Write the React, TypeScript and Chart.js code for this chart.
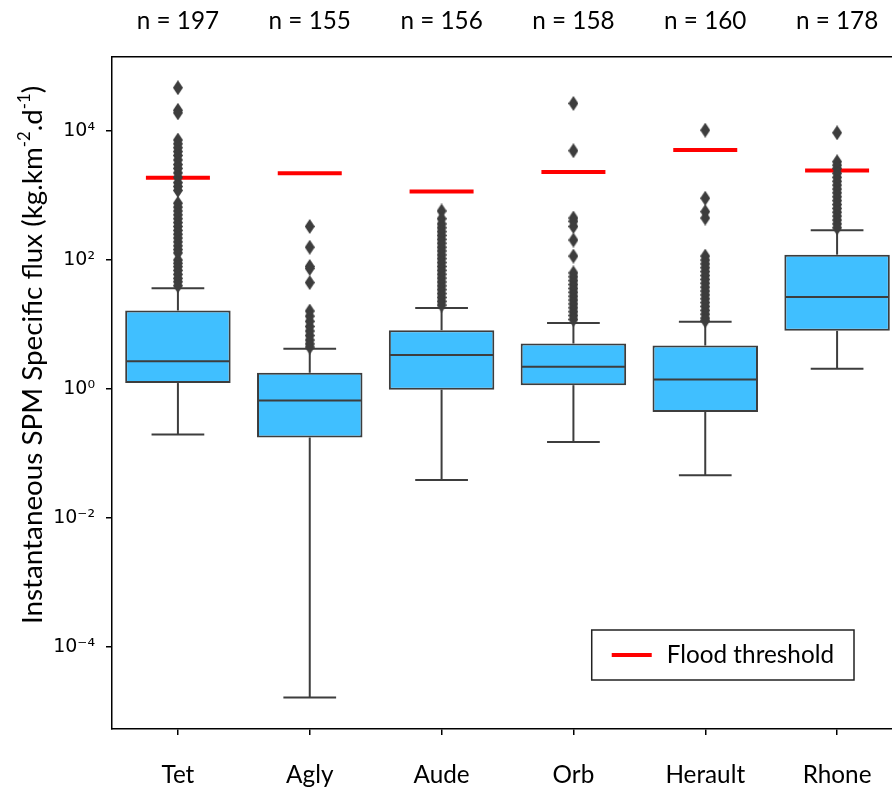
import React, { useEffect, useRef } from 'react';
import { Chart, registerables } from 'chart.js';

Chart.register(...registerables);

// ---------------- data ----------------
const categories = ['Tet', 'Agly', 'Aude', 'Orb', 'Herault', 'Rhone'];
const sampleCounts = [197, 155, 156, 158, 160, 178];

const q1Values = [1.24, 0.177, 0.98, 1.15, 0.441, 7.98];
const medianValues = [2.71, 0.668, 3.36, 2.22, 1.41, 26.8];
const q3Values = [16.5, 1.79, 8.17, 5.08, 4.73, 121];
const whiskerLow = [0.197, 0.0000166, 0.039, 0.152, 0.046, 2.07];
const whiskerHigh = [36.4, 4.21, 18.1, 10.6, 11.1, 290];
const floodThreshold = [1890, 2210, 1150, 2320, 5070, 2430];

const outliersTet = [46800, 20900, 19100, 7240, 6310, 5500, 4790, 4170, 3550, 3020, 2630, 2240, 1910, 1580, 1380, 1200,
  759, 661, 575, 501, 437, 380, 331, 288, 251, 219, 191, 166, 145, 129, 100, 89, 79, 69, 60, 52, 46, 40];
const outliersAgly = [331, 158, 79.4, 74.1, 44.7, 16.2, 13.5, 11.2, 9.33, 7.94, 6.76, 5.75, 5.01, 4.47];
const outliersAude = [575, 437, 363, 316, 275, 240, 209, 182, 158, 138, 120, 105, 91.2, 79.4, 69.2, 60.3, 52.5, 45.7,
  39.8, 34.7, 30.2, 26.3, 22.9, 20.0];
const outliersOrb = [26700, 4940, 447, 398, 331, 204, 115, 63.1, 55.0, 47.9, 41.7, 36.3, 31.6, 27.5, 24.0, 20.9, 18.2,
  15.8, 13.8, 12.0];
const outliersHerault = [10300, 908, 562, 447, 115, 100, 87.1, 75.9, 66.1, 57.5, 50.1, 43.7, 38.0, 33.1, 28.8, 25.1,
  21.9, 19.1, 16.6, 14.5, 12.6, 11.5];
const outliersRhone = [9380, 3340, 2950, 2630, 2210, 1910, 1660, 1450, 1260, 1100, 955, 832, 724, 631, 550, 479, 417,
  363, 316];

const yTickValues = [1e-4, 1e-2, 1, 1e2, 1e4];
const yTickLabels = ['10⁻⁴', '10⁻²', '10⁰', '10²', '10⁴'];
const yMin = 5.4e-6;
const yMax = 1.4e5;

const legendLabel = 'Flood threshold';
const yTitleParts = [
  { text: 'Instantaneous SPM Specific flux (kg.km', sup: false },
  { text: '-2', sup: true },
  { text: '.d', sup: false },
  { text: '-1', sup: true },
  { text: ')', sup: false },
];

// ---------------- styles ----------------
const FAMILY = 'Lato, "Open Sans", sans-serif';
const GRAY = '#3d3d3d';
const BOX_FILL = '#40bfff';
const RED = '#ff0000';

export default function App() {
  const ref = useRef<HTMLCanvasElement>(null);

  useEffect(() => {
    const canvas = ref.current;
    if (!canvas) return;

    const mctx = document.createElement('canvas').getContext('2d')!;
    mctx.font = `20px ${FAMILY}`;
    const fs = Math.round((20 * 167 / mctx.measureText(legendLabel).width) * 10) / 10;
    let tw20 = 0;
    yTitleParts.forEach((p) => {
      mctx.font = `${p.sup ? 12 : 20}px ${FAMILY}`;
      tw20 += mctx.measureText(p.text).width;
    });
    const titleFs = Math.round((20 * 538 / tw20) * 10) / 10;

    const diamond = document.createElement('canvas');
    diamond.width = 10;
    diamond.height = 15;
    const dc = diamond.getContext('2d')!;
    dc.fillStyle = GRAY;
    dc.beginPath();
    dc.moveTo(5, 0);
    dc.lineTo(10, 7.5);
    dc.lineTo(5, 15);
    dc.lineTo(0, 7.5);
    dc.closePath();
    dc.fill();

    const allOutliers = [outliersTet, outliersAgly, outliersAude, outliersOrb, outliersHerault, outliersRhone];
    const outlierPoints = allOutliers.flatMap((arr, i) => arr.map((v) => ({ x: categories[i], y: v })));
    const floodPoints = floodThreshold.map((v, i) => ({ x: categories[i], y: v }));

    const boxPlugin = {
      id: 'boxDetails',
      afterDatasetDraw(chart: any, args: any) {
        if (args.index !== 0) return;
        const meta = chart.getDatasetMeta(0);
        const ys = chart.scales.y;
        const ctx = chart.ctx;
        ctx.save();
        ctx.strokeStyle = GRAY;
        ctx.lineWidth = 2;
        const seg = (x1: number, y1: number, x2: number, y2: number) => {
          ctx.beginPath();
          ctx.moveTo(x1, y1);
          ctx.lineTo(x2, y2);
          ctx.stroke();
        };
        meta.data.forEach((bar: any, i: number) => {
          const x = bar.x;
          const w = bar.width;
          const yq1 = ys.getPixelForValue(q1Values[i]);
          const yq3 = ys.getPixelForValue(q3Values[i]);
          const ylo = ys.getPixelForValue(whiskerLow[i]);
          const yhi = ys.getPixelForValue(whiskerHigh[i]);
          const ymed = ys.getPixelForValue(medianValues[i]);
          seg(x, yq3, x, yhi);
          seg(x, yq1, x, ylo);
          seg(x - w / 4, yhi, x + w / 4, yhi);
          seg(x - w / 4, ylo, x + w / 4, ylo);
          seg(x - w / 2 + 1, ymed, x + w / 2 - 1, ymed);
        });
        ctx.restore();
      },
    };

    const overlayPlugin = {
      id: 'overlay',
      afterDraw(chart: any) {
        const { ctx, chartArea: ca } = chart;
        ctx.save();
        // legend
        ctx.font = `${fs}px ${FAMILY}`;
        const label = chart.data.datasets[1].label;
        const tw = ctx.measureText(label).width;
        const bw = 20 + 40 + 15 + tw + 20;
        const bh = 50;
        const bx = ca.right - 49 - bw;
        const by = ca.bottom - 49 - bh;
        ctx.fillStyle = '#fff';
        ctx.fillRect(bx, by, bw, bh);
        ctx.strokeStyle = '#222';
        ctx.lineWidth = 1.5;
        ctx.strokeRect(bx, by, bw, bh);
        ctx.strokeStyle = RED;
        ctx.lineWidth = 4;
        ctx.beginPath();
        ctx.moveTo(bx + 20, by + bh / 2);
        ctx.lineTo(bx + 60, by + bh / 2);
        ctx.stroke();
        ctx.fillStyle = '#000';
        ctx.textAlign = 'left';
        ctx.textBaseline = 'middle';
        ctx.fillText(label, bx + 75, by + bh / 2);

        // y axis title
        const supFs = titleFs * 0.6;
        let total = 0;
        yTitleParts.forEach((p) => {
          ctx.font = `${p.sup ? supFs : titleFs}px ${FAMILY}`;
          total += ctx.measureText(p.text).width;
        });
        ctx.translate(32, ca.top + 298);
        ctx.rotate(-Math.PI / 2);
        ctx.textAlign = 'left';
        ctx.textBaseline = 'alphabetic';
        let cx = -total / 2;
        const base = titleFs * 0.36;
        yTitleParts.forEach((p) => {
          ctx.font = `${p.sup ? supFs : titleFs}px ${FAMILY}`;
          ctx.fillText(p.text, cx, p.sup ? base - titleFs * 0.42 : base);
          cx += ctx.measureText(p.text).width;
        });
        ctx.restore();
      },
    };

    const chart = new Chart(canvas, {
      type: 'bar',
      data: {
        labels: categories,
        datasets: [
          {
            type: 'bar',
            label: 'box',
            data: q1Values.map((v, i) => [v, q3Values[i]]),
            backgroundColor: BOX_FILL,
            borderColor: GRAY,
            borderWidth: 2,
            borderSkipped: false,
            barPercentage: 0.8,
            categoryPercentage: 1,
            order: 3,
            xAxisID: 'x',
            yAxisID: 'y',
          } as any,
          {
            type: 'scatter',
            label: legendLabel,
            data: floodPoints,
            pointStyle: 'line',
            pointRadius: 32,
            pointBorderWidth: 4,
            pointBorderColor: RED,
            pointBackgroundColor: RED,
            order: 2,
            xAxisID: 'x',
            yAxisID: 'y',
          } as any,
          {
            type: 'scatter',
            label: 'outliers',
            data: outlierPoints,
            pointStyle: diamond,
            pointRadius: 5,
            order: 1,
            xAxisID: 'x',
            yAxisID: 'y',
          } as any,
        ],
      },
      options: {
        responsive: false,
        animation: false,
        events: [],
        layout: { autoPadding: false, padding: { left: 0, right: 7, top: 0, bottom: 0 } },
        plugins: { legend: { display: false }, tooltip: { enabled: false } },
        scales: {
          x: {
            type: 'category',
            position: 'bottom',
            offset: true,
            afterFit: (s: any) => { s.height = 60; },
            grid: { display: true, drawOnChartArea: false, drawTicks: true, tickLength: 6, offset: false, color: '#000', lineWidth: 1.5 },
            border: { display: true, color: '#000', width: 1.5 },
            ticks: { font: { family: FAMILY, size: fs }, color: '#000', padding: 26, maxRotation: 0, autoSkip: false },
          },
          x2: {
            type: 'category',
            position: 'top',
            offset: true,
            afterFit: (s: any) => { s.height = 57; },
            grid: { display: false, drawTicks: false, offset: false },
            border: { display: true, color: '#000', width: 1.5 },
            ticks: {
              callback: (_v: any, i: number) => `n = ${sampleCounts[i]}`,
              font: { family: FAMILY, size: fs },
              color: '#000',
              padding: 21,
              maxRotation: 0,
              autoSkip: false,
            },
          },
          y: {
            type: 'logarithmic',
            min: yMin,
            max: yMax,
            bounds: 'data',
            afterBuildTicks: (s: any) => { s.ticks = yTickValues.map((v) => ({ value: v })); },
            afterFit: (s: any) => { s.width = 112; },
            grid: { display: true, drawOnChartArea: false, drawTicks: true, tickLength: 6, color: '#000', lineWidth: 1.5 },
            border: { display: true, color: '#000', width: 1.5 },
            ticks: {
              callback: (v: any) => {
                const k = yTickValues.indexOf(Number(v));
                return k >= 0 ? yTickLabels[k] : '';
              },
              font: { family: '"DejaVu Sans"', size: 19 },
              color: '#000',
              padding: 11,
              autoSkip: false,
            },
          },
        } as any,
      },
      plugins: [boxPlugin, overlayPlugin],
    });

    return () => chart.destroy();
  }, []);

  return (
    <div style={{ position: 'absolute', left: 0, top: 0, width: 892, height: 789, overflow: 'hidden', background: '#fff' }}>
      <canvas ref={ref} width={910} height={789} style={{ display: 'block' }} />
    </div>
  );
}
